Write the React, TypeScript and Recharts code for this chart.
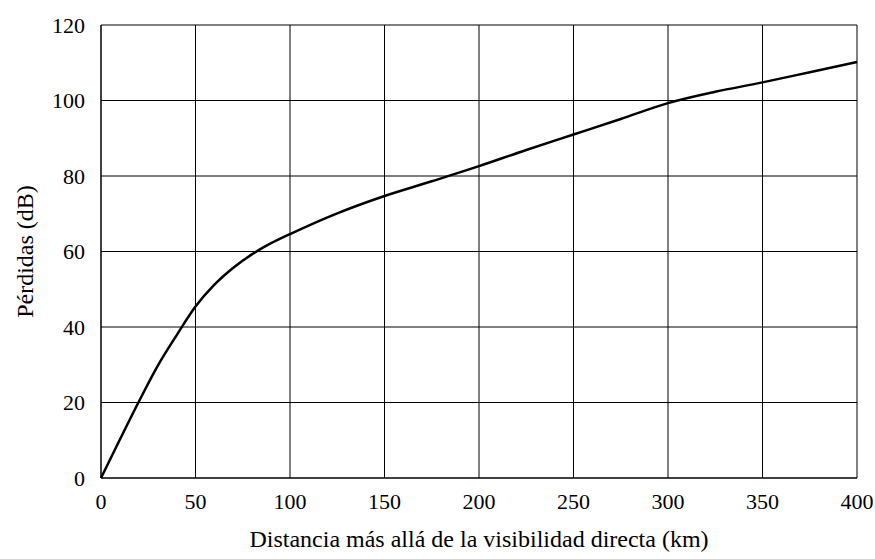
import { LineChart, Line, XAxis, YAxis, CartesianGrid } from "recharts";

// distance beyond line of sight (km) and loss (dB)
const distances = [0, 10, 20, 30, 40, 50, 60, 70, 80, 90, 100, 125, 150, 175, 200, 225, 250, 275, 300, 325, 350, 375, 400];
const losses = [0, 10.2, 20.2, 29.7, 37.8, 45.4, 51.2, 55.7, 59.3, 62.2, 64.6, 70.1, 74.7, 78.6, 82.6, 86.9, 91, 95.1, 99.3, 102.3, 104.8, 107.5, 110.2];

const xTicks = [0, 50, 100, 150, 200, 250, 300, 350, 400];
const yTicks = [0, 20, 40, 60, 80, 100, 120];

const data = distances.map((d, i) => ({ d, loss: losses[i] }));

const font = "Liberation Serif";

export default function App() {
  return (
    <div style={{ position: "absolute", left: 0, top: 0, background: "#fff", fontFamily: font }}>
      <LineChart width={875} height={559} data={data} margin={{ top: 25, right: 18, left: 5, bottom: 0 }}>
        <CartesianGrid stroke="#000" strokeWidth={1} />
        <XAxis
          dataKey="d"
          type="number"
          domain={[0, 400]}
          ticks={xTicks}
          height={81}
          tickSize={0}
          tickMargin={15}
          axisLine={{ stroke: "#000" }}
          tickLine={false}
          tick={{ fill: "#000", fontSize: 22, fontFamily: font }}
          label={{
            value: "Distancia más allá de la visibilidad directa (km)",
            position: "insideBottom",
            offset: 12,
            fill: "#000",
            fontSize: 24,
            fontFamily: font,
          }}
        />
        <YAxis
          type="number"
          domain={[0, 120]}
          ticks={yTicks}
          width={96}
          tickSize={0}
          tickMargin={16}
          axisLine={{ stroke: "#000" }}
          tickLine={false}
          tick={{ fill: "#000", fontSize: 22, fontFamily: font }}
          label={{
            value: "Pérdidas (dB)",
            angle: -90,
            position: "insideLeft",
            offset: 19,
            fill: "#000",
            fontSize: 24,
            fontFamily: font,
            style: { textAnchor: "middle" },
          }}
        />
        <Line
          type="monotone"
          dataKey="loss"
          stroke="#000"
          strokeWidth={2.5}
          dot={false}
          isAnimationActive={false}
        />
      </LineChart>
    </div>
  );
}
